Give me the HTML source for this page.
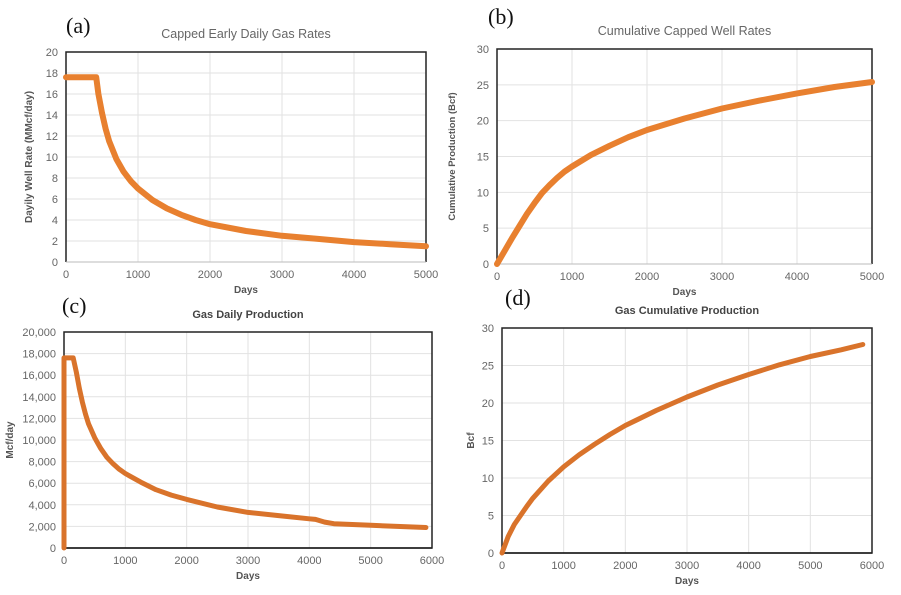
<!DOCTYPE html>
<html><head><meta charset="utf-8"><style>
body{margin:0;background:#fff;}
svg{display:block;font-family:"Liberation Sans",sans-serif;}
</style></head><body>
<svg id="s" width="901" height="595" viewBox="0 0 901 595"></svg>
<script>
const aX=[0,420,450,500,550,600,700,800,900,1000,1200,1400,1600,1800,2000,2500,3000,3500,4000,4500,5000];
const aY=[17.6,17.6,16,14.2,12.7,11.5,9.8,8.6,7.7,7.0,5.9,5.1,4.5,4.0,3.6,2.95,2.5,2.2,1.9,1.7,1.5];
const bX=[0,100,200,300,400,500,600,700,800,900,1000,1250,1500,1750,2000,2500,3000,3500,4000,4500,5000];
const bY=[0,1.8,3.6,5.3,7,8.5,9.9,11,12,12.9,13.6,15.2,16.5,17.7,18.7,20.3,21.7,22.8,23.8,24.7,25.4];
const cX=[0,0,150,200,250,300,350,400,500,600,700,800,900,1000,1250,1500,1750,2000,2500,3000,3500,4000,4100,4250,4400,5000,5900];
const cY=[0,17600,17600,16300,14800,13500,12400,11500,10200,9200,8400,7800,7300,6900,6100,5400,4900,4500,3800,3300,3000,2700,2650,2400,2250,2100,1900];
const dX=[0,100,200,300,400,500,750,1000,1250,1500,1750,2000,2500,3000,3500,4000,4500,5000,5500,5850];
const dY=[0,2.2,3.8,5,6.2,7.3,9.6,11.5,13.1,14.5,15.8,17,19,20.8,22.4,23.8,25.1,26.2,27.1,27.8];
const aYt=["0","2","4","6","8","10","12","14","16","18","20"];
const bYt=["0","5","10","15","20","25","30"];
const cYt=["0","2,000","4,000","6,000","8,000","10,000","12,000","14,000","16,000","18,000","20,000"];
const xt5=["0","1000","2000","3000","4000","5000"];
const xt6=["0","1000","2000","3000","4000","5000","6000"];
const NS='http://www.w3.org/2000/svg',svg=document.getElementById('s');
function mk(t,a,p){const e=document.createElementNS(NS,t);for(const k in a)e.setAttribute(k,a[k]);(p||svg).appendChild(e);return e;}
function panel(o){
 const g=mk('g',{});
 
 
 const sx=v=>o.l+(v/o.xmax)*(o.r-o.l), sy=v=>o.b-(v/o.ymax)*(o.b-o.t);
 o.xt.forEach(t=>{const v=+t.replace(/,/g,'');const x=sx(v);
  const ln=mk('line',{x1:x,x2:x,y1:o.t,y2:o.b,stroke:'#e2e2e2','stroke-width':1},g);
  
  const tx=mk('text',{x:x,y:o.b+16,'font-size':11,fill:'#666','text-anchor':'middle'},g);tx.textContent=t;
  });
 o.yt.forEach(t=>{const v=+t.replace(/,/g,'')/o.ys;const y=sy(v);
  const ln=mk('line',{x1:o.l,x2:o.r,y1:y,y2:y,stroke:'#e2e2e2','stroke-width':1},g);
  
  const tx=mk('text',{x:o.l-8,y:y+4,'font-size':11,fill:'#666','text-anchor':'end'},g);tx.textContent=t;
  });
 const fr=mk('path',{d:`M${o.l},${o.b}V${o.t}H${o.r}V${o.b}`+(o.box?'Z':''),fill:'none',stroke:'#222','stroke-width':1.5},g);
 
 const ax=mk('line',{x1:o.l,x2:o.r,y1:o.b,y2:o.b,stroke:o.box?'#222':'#bbb','stroke-width':o.box?1.5:1},g);
 
 const d=o.X.map((x,i)=>(i?'L':'M')+sx(x).toFixed(1)+','+sy(o.Y[i]/o.ys).toFixed(1)).join('');
 const p=mk('path',{d:d,fill:'none',stroke:o.col,'stroke-width':o.w,'stroke-linejoin':'round','stroke-linecap':'round'},g);
 
 const ti=mk('text',{x:(o.l+o.r)/2,y:o.t-14,'font-size':o.tb?11:12.5,'font-weight':o.tb?'bold':'normal',fill:o.tb?'#444':'#666','text-anchor':'middle'},g);ti.textContent=o.title;
 
 const xl=mk('text',{x:(o.l+o.r)/2,y:o.b+31,'font-size':10,'font-weight':'bold',fill:'#555','text-anchor':'middle'},g);xl.textContent='Days';
 
 const yx=o.ylx,yy=(o.t+o.b)/2;
 const yl=mk('text',{x:yx,y:yy,'font-size':o.ylf,'font-weight':'bold',fill:'#555','text-anchor':'middle',transform:`rotate(-90 ${yx} ${yy})`},g);yl.textContent=o.yl;
 
 const lb=mk('text',{x:o.lx,y:o.ly,'font-size':22,'font-family':'Liberation Serif, serif',fill:'#111'},g);lb.textContent=o.lab;
 
}
panel({name:'panel-a',l:66,r:426,t:52,b:262,xmax:5000,ymax:20,ys:1,X:aX,Y:aY,xt:xt5,yt:aYt,col:'#E8802F',w:6,title:'Capped Early Daily Gas Rates',yl:'Dayily Well Rate (MMcf/day)',ylx:32,ylf:10,lab:'(a)',lx:66,ly:33,box:false});
panel({name:'panel-b',l:497,r:872,t:49,b:264,xmax:5000,ymax:30,ys:1,X:bX,Y:bY,xt:xt5,yt:bYt,col:'#E8802F',w:6,title:'Cumulative Capped Well Rates',yl:'Cumulative Production (Bcf)',ylx:455,ylf:9.5,lab:'(b)',lx:488,ly:24,box:false});
panel({name:'panel-c',l:64,r:432,t:332,b:548,xmax:6000,ymax:20,ys:1000,X:cX,Y:cY,xt:xt6,yt:cYt,col:'#D9732B',w:5,title:'Gas Daily Production',yl:'Mcf/day',ylx:13,ylf:10,lab:'(c)',lx:62,ly:313,box:true,tb:true});
panel({name:'panel-d',l:502,r:872,t:328,b:553,xmax:6000,ymax:30,ys:1,X:dX,Y:dY,xt:xt6,yt:bYt,col:'#D9732B',w:5,title:'Gas Cumulative Production',yl:'Bcf',ylx:474,ylf:10,lab:'(d)',lx:505,ly:305,box:true,tb:true});
</script>
</body></html>
